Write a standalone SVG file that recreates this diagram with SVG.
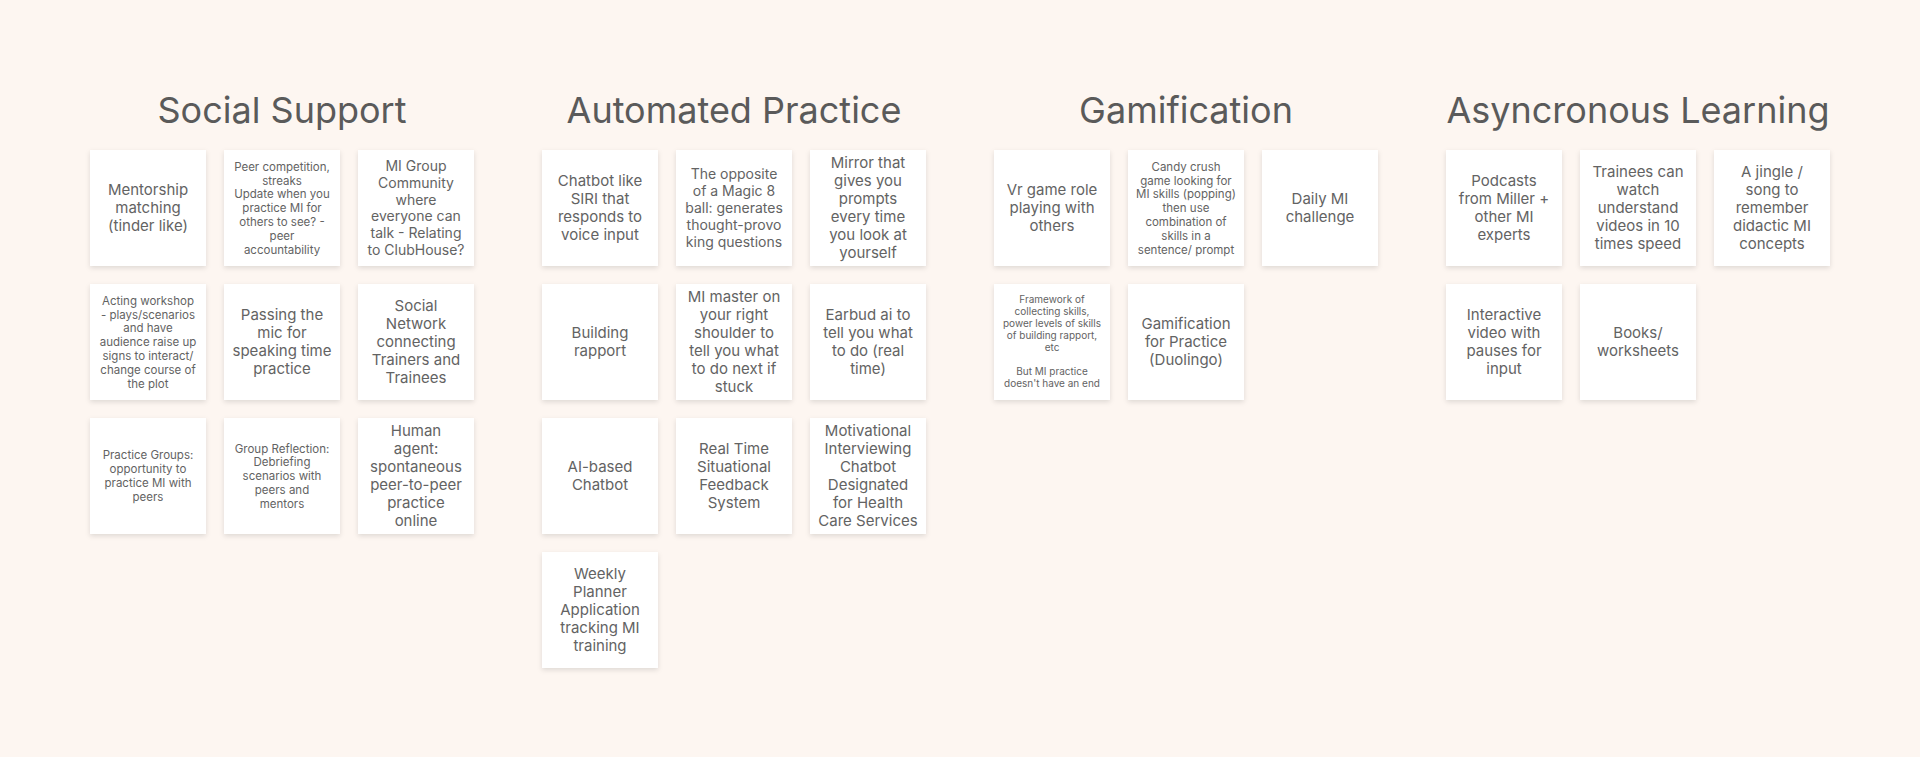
<svg xmlns="http://www.w3.org/2000/svg" width="1920" height="757" viewBox="0 0 1920 757">
<defs>
<filter id="sh" x="-20%" y="-20%" width="140%" height="150%">
<feDropShadow dx="0" dy="2" stdDeviation="2.5" flood-color="#000" flood-opacity="0.12"/>
</filter>
<style>
.note{fill:#ffffff;filter:url(#sh)}
text{font-family:Inter,"Liberation Sans",sans-serif;fill:#636363;text-anchor:middle}
.title{font-size:36px;fill:#5a5a5a}
.f15{font-size:15px}
.f14{font-size:14px}
.f115{font-size:11.5px}
.f10{font-size:10px}
</style>
</defs>
<rect width="1920" height="757" fill="#fdf6f1"/>

<g id="social-support">
<text class="title" x="282" y="123">Social Support</text>
<g id="ss-1"><rect class="note" x="90" y="150" width="116" height="116"/>
<text class="f15" y="195.4"><tspan x="148">Mentorship</tspan><tspan x="148" dy="18">matching</tspan><tspan x="148" dy="18">(tinder like)</tspan></text></g>
<g id="ss-2"><rect class="note" x="224" y="150" width="116" height="116"/>
<text class="f115" y="170.7"><tspan x="282">Peer competition,</tspan><tspan x="282" dy="13.8">streaks</tspan><tspan x="282" dy="13.8">Update when you</tspan><tspan x="282" dy="13.8">practice MI for</tspan><tspan x="282" dy="13.8">others to see? -</tspan><tspan x="282" dy="13.8">peer</tspan><tspan x="282" dy="13.8">accountability</tspan></text></g>
<g id="ss-3"><rect class="note" x="358" y="150" width="116" height="116"/>
<text class="f14" y="171"><tspan x="416">MI Group</tspan><tspan x="416" dy="16.8">Community</tspan><tspan x="416" dy="16.8">where</tspan><tspan x="416" dy="16.8">everyone can</tspan><tspan x="416" dy="16.8">talk - Relating</tspan><tspan x="416" dy="16.8">to ClubHouse?</tspan></text></g>
<g id="ss-4"><rect class="note" x="90" y="284" width="116" height="116"/>
<text class="f115" y="304.7"><tspan x="148">Acting workshop</tspan><tspan x="148" dy="13.8">- plays/scenarios</tspan><tspan x="148" dy="13.8">and have</tspan><tspan x="148" dy="13.8">audience raise up</tspan><tspan x="148" dy="13.8">signs to interact/</tspan><tspan x="148" dy="13.8">change course of</tspan><tspan x="148" dy="13.8">the plot</tspan></text></g>
<g id="ss-5"><rect class="note" x="224" y="284" width="116" height="116"/>
<text class="f15" y="320.4"><tspan x="282">Passing the</tspan><tspan x="282" dy="18">mic for</tspan><tspan x="282" dy="18">speaking time</tspan><tspan x="282" dy="18">practice</tspan></text></g>
<g id="ss-6"><rect class="note" x="358" y="284" width="116" height="116"/>
<text class="f15" y="311.4"><tspan x="416">Social</tspan><tspan x="416" dy="18">Network</tspan><tspan x="416" dy="18">connecting</tspan><tspan x="416" dy="18">Trainers and</tspan><tspan x="416" dy="18">Trainees</tspan></text></g>
<g id="ss-7"><rect class="note" x="90" y="418" width="116" height="116"/>
<text class="f115" y="459.4"><tspan x="148">Practice Groups:</tspan><tspan x="148" dy="13.8">opportunity to</tspan><tspan x="148" dy="13.8">practice MI with</tspan><tspan x="148" dy="13.8">peers</tspan></text></g>
<g id="ss-8"><rect class="note" x="224" y="418" width="116" height="116"/>
<text class="f115" y="452.5"><tspan x="282">Group Reflection:</tspan><tspan x="282" dy="13.8">Debriefing</tspan><tspan x="282" dy="13.8">scenarios with</tspan><tspan x="282" dy="13.8">peers and</tspan><tspan x="282" dy="13.8">mentors</tspan></text></g>
<g id="ss-9"><rect class="note" x="358" y="418" width="116" height="116"/>
<text class="f15" y="436.4"><tspan x="416">Human</tspan><tspan x="416" dy="18">agent:</tspan><tspan x="416" dy="18">spontaneous</tspan><tspan x="416" dy="18">peer-to-peer</tspan><tspan x="416" dy="18">practice</tspan><tspan x="416" dy="18">online</tspan></text></g>
</g>

<g id="automated-practice">
<text class="title" x="734" y="123">Automated Practice</text>
<g id="ap-1"><rect class="note" x="542" y="150" width="116" height="116"/>
<text class="f15" y="186.4"><tspan x="600">Chatbot like</tspan><tspan x="600" dy="18">SIRI that</tspan><tspan x="600" dy="18">responds to</tspan><tspan x="600" dy="18">voice input</tspan></text></g>
<g id="ap-2"><rect class="note" x="676" y="150" width="116" height="116"/>
<text class="f14" y="179.4"><tspan x="734">The opposite</tspan><tspan x="734" dy="16.8">of a Magic 8</tspan><tspan x="734" dy="16.8">ball: generates</tspan><tspan x="734" dy="16.8">thought-provo</tspan><tspan x="734" dy="16.8">king questions</tspan></text></g>
<g id="ap-3"><rect class="note" x="810" y="150" width="116" height="116"/>
<text class="f15" y="168.4"><tspan x="868">Mirror that</tspan><tspan x="868" dy="18">gives you</tspan><tspan x="868" dy="18">prompts</tspan><tspan x="868" dy="18">every time</tspan><tspan x="868" dy="18">you look at</tspan><tspan x="868" dy="18">yourself</tspan></text></g>
<g id="ap-4"><rect class="note" x="542" y="284" width="116" height="116"/>
<text class="f15" y="338.4"><tspan x="600">Building</tspan><tspan x="600" dy="18">rapport</tspan></text></g>
<g id="ap-5"><rect class="note" x="676" y="284" width="116" height="116"/>
<text class="f15" y="302.4"><tspan x="734">MI master on</tspan><tspan x="734" dy="18">your right</tspan><tspan x="734" dy="18">shoulder to</tspan><tspan x="734" dy="18">tell you what</tspan><tspan x="734" dy="18">to do next if</tspan><tspan x="734" dy="18">stuck</tspan></text></g>
<g id="ap-6"><rect class="note" x="810" y="284" width="116" height="116"/>
<text class="f15" y="320.4"><tspan x="868">Earbud ai to</tspan><tspan x="868" dy="18">tell you what</tspan><tspan x="868" dy="18">to do (real</tspan><tspan x="868" dy="18">time)</tspan></text></g>
<g id="ap-7"><rect class="note" x="542" y="418" width="116" height="116"/>
<text class="f15" y="472.4"><tspan x="600">AI-based</tspan><tspan x="600" dy="18">Chatbot</tspan></text></g>
<g id="ap-8"><rect class="note" x="676" y="418" width="116" height="116"/>
<text class="f15" y="454.4"><tspan x="734">Real Time</tspan><tspan x="734" dy="18">Situational</tspan><tspan x="734" dy="18">Feedback</tspan><tspan x="734" dy="18">System</tspan></text></g>
<g id="ap-9"><rect class="note" x="810" y="418" width="116" height="116"/>
<text class="f15" y="436.4"><tspan x="868">Motivational</tspan><tspan x="868" dy="18">Interviewing</tspan><tspan x="868" dy="18">Chatbot</tspan><tspan x="868" dy="18">Designated</tspan><tspan x="868" dy="18">for Health</tspan><tspan x="868" dy="18">Care Services</tspan></text></g>
<g id="ap-10"><rect class="note" x="542" y="552" width="116" height="116"/>
<text class="f15" y="579.4"><tspan x="600">Weekly</tspan><tspan x="600" dy="18">Planner</tspan><tspan x="600" dy="18">Application</tspan><tspan x="600" dy="18">tracking MI</tspan><tspan x="600" dy="18">training</tspan></text></g>
</g>

<g id="gamification">
<text class="title" x="1186" y="123">Gamification</text>
<g id="gm-1"><rect class="note" x="994" y="150" width="116" height="116"/>
<text class="f15" y="195.4"><tspan x="1052">Vr game role</tspan><tspan x="1052" dy="18">playing with</tspan><tspan x="1052" dy="18">others</tspan></text></g>
<g id="gm-2"><rect class="note" x="1128" y="150" width="116" height="116"/>
<text class="f115" y="170.7"><tspan x="1186">Candy crush</tspan><tspan x="1186" dy="13.8">game looking for</tspan><tspan x="1186" dy="13.8">MI skills (popping)</tspan><tspan x="1186" dy="13.8">then use</tspan><tspan x="1186" dy="13.8">combination of</tspan><tspan x="1186" dy="13.8">skills in a</tspan><tspan x="1186" dy="13.8">sentence/ prompt</tspan></text></g>
<g id="gm-3"><rect class="note" x="1262" y="150" width="116" height="116"/>
<text class="f15" y="204.4"><tspan x="1320">Daily MI</tspan><tspan x="1320" dy="18">challenge</tspan></text></g>
<g id="gm-4"><rect class="note" x="994" y="284" width="116" height="116"/>
<text class="f10" y="303"><tspan x="1052">Framework of</tspan><tspan x="1052" dy="12">collecting skills,</tspan><tspan x="1052" dy="12">power levels of skills</tspan><tspan x="1052" dy="12">of building rapport,</tspan><tspan x="1052" dy="12">etc</tspan><tspan x="1052" dy="24">But MI practice</tspan><tspan x="1052" dy="12">doesn't have an end</tspan></text></g>
<g id="gm-5"><rect class="note" x="1128" y="284" width="116" height="116"/>
<text class="f15" y="329.4"><tspan x="1186">Gamification</tspan><tspan x="1186" dy="18">for Practice</tspan><tspan x="1186" dy="18">(Duolingo)</tspan></text></g>
</g>

<g id="asyncronous-learning">
<text class="title" x="1638" y="123">Asyncronous Learning</text>
<g id="al-1"><rect class="note" x="1446" y="150" width="116" height="116"/>
<text class="f15" y="186.4"><tspan x="1504">Podcasts</tspan><tspan x="1504" dy="18">from Miller +</tspan><tspan x="1504" dy="18">other MI</tspan><tspan x="1504" dy="18">experts</tspan></text></g>
<g id="al-2"><rect class="note" x="1580" y="150" width="116" height="116"/>
<text class="f15" y="177.4"><tspan x="1638">Trainees can</tspan><tspan x="1638" dy="18">watch</tspan><tspan x="1638" dy="18">understand</tspan><tspan x="1638" dy="18">videos in 10</tspan><tspan x="1638" dy="18">times speed</tspan></text></g>
<g id="al-3"><rect class="note" x="1714" y="150" width="116" height="116"/>
<text class="f15" y="177.4"><tspan x="1772">A jingle /</tspan><tspan x="1772" dy="18">song to</tspan><tspan x="1772" dy="18">remember</tspan><tspan x="1772" dy="18">didactic MI</tspan><tspan x="1772" dy="18">concepts</tspan></text></g>
<g id="al-4"><rect class="note" x="1446" y="284" width="116" height="116"/>
<text class="f15" y="320.4"><tspan x="1504">Interactive</tspan><tspan x="1504" dy="18">video with</tspan><tspan x="1504" dy="18">pauses for</tspan><tspan x="1504" dy="18">input</tspan></text></g>
<g id="al-5"><rect class="note" x="1580" y="284" width="116" height="116"/>
<text class="f15" y="338.4"><tspan x="1638">Books/</tspan><tspan x="1638" dy="18">worksheets</tspan></text></g>
</g>

<g id="connectors"/>
</svg>
